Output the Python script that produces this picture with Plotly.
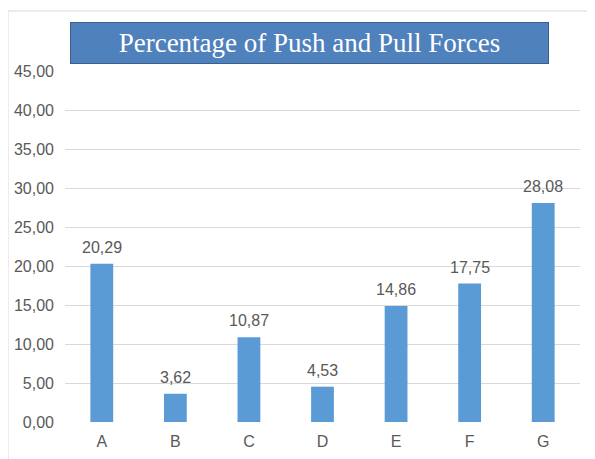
import plotly.graph_objects as go

categories = ["A", "B", "C", "D", "E", "F", "G"]
percentages = [20.29, 3.62, 10.87, 4.53, 14.86, 17.75, 28.08]
y_ticks = [0, 5, 10, 15, 20, 25, 30, 35, 40, 45]

fig = go.Figure()
fig.add_trace(go.Bar(
    x=categories,
    y=percentages,
    width=0.31,
    marker=dict(color="#5B9BD5", line=dict(width=0)),
))

# value labels above the bars
for cat, val in zip(categories, percentages):
    fig.add_annotation(
        x=cat, y=val,
        text=f"{val:.2f}".replace(".", ","),
        showarrow=False,
        yanchor="bottom",
        yshift=6,
        font=dict(family="Liberation Sans", size=16, color="#595959"),
    )

fig.update_layout(
    width=595,
    height=459,
    margin=dict(l=57, r=23, t=63, b=45),
    paper_bgcolor="white",
    plot_bgcolor="white",
    separators=", ",
    showlegend=False,
    font=dict(family="Liberation Sans", size=16, color="#595959"),
    xaxis=dict(showgrid=False, showline=False, ticks="", zeroline=False,
               ticklabelstandoff=8, automargin=False),
    yaxis=dict(
        range=[0, 45],
        tickvals=y_ticks,
        tickformat=".2f",
        showgrid=True,
        gridcolor="#D9D9D9",
        gridwidth=1,
        zeroline=False,
        showline=False,
        ticks="",
        ticklabelstandoff=10,
        automargin=False,
    ),
)

# title box
fig.add_annotation(
    text="Percentage of Push and Pull Forces",
    xref="paper", yref="paper",
    x=0.475, y=1.080,
    xanchor="center", yanchor="middle",
    showarrow=False,
    width=477, height=40,
    bgcolor="#4F81BD",
    bordercolor="#3A5F8C",
    borderwidth=1,
    borderpad=0,
    font=dict(family="Liberation Serif", size=27, color="white"),
)

# chart border
fig.add_shape(
    type="rect", xref="paper", yref="paper",
    x0=-0.1107, y0=-0.25, x1=1.1, y1=1.171,
    line=dict(color="#D9D9D9", width=1),
    layer="below",
)

fig.write_html("out.html")
